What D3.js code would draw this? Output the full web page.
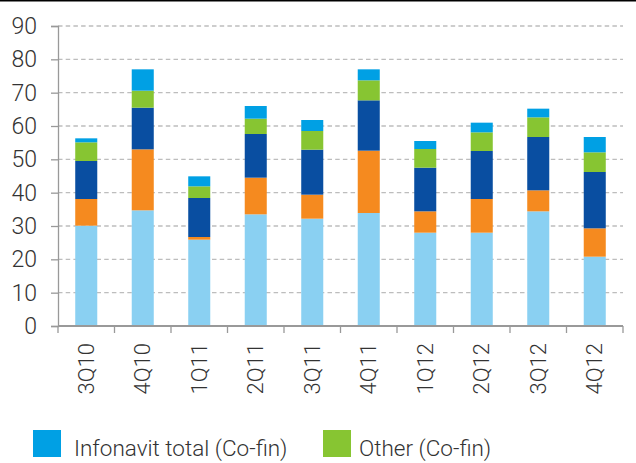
<!DOCTYPE html>
<html>
<head>
<meta charset="utf-8">
<script src="https://cdn.jsdelivr.net/npm/d3@7"></script>
<style>
  body { margin: 0; background: #fff; }
  svg { display: block; font-family: Roboto, "Open Sans", sans-serif; font-weight: 300; }
</style>
</head>
<body>
<svg id="chart"></svg>
<script>
const quarters = ["3Q10", "4Q10", "1Q11", "2Q11", "3Q11", "4Q11", "1Q12", "2Q12", "3Q12", "4Q12"];

// stack segments, bottom to top
const lightBlue = [30.1, 34.7, 25.9, 33.5, 32.2, 33.9, 28.0, 28.0, 34.4, 20.8];
const orange = [8.0, 18.3, 0.8, 11.0, 7.2, 18.7, 6.4, 10.1, 6.3, 8.5];
const darkBlue = [11.4, 12.5, 11.7, 13.1, 13.5, 15.1, 13.1, 14.4, 16.0, 16.9];
const otherCofin = [5.6, 5.1, 3.5, 4.6, 5.6, 6.0, 5.6, 5.6, 5.9, 5.9];
const infonavitCofin = [1.2, 6.4, 3.0, 3.8, 3.3, 3.3, 2.4, 2.9, 2.6, 4.6];

const yTicks = [0, 10, 20, 30, 40, 50, 60, 70, 80, 90];

const seriesKeys = ["lightBlue", "orange", "darkBlue", "other", "infonavit"];
const seriesColors = {
    lightBlue: "#8ad0f2",
    orange: "#f58a1f",
    darkBlue: "#094ea1",
    other: "#87c532",
    infonavit: "#00a0e4"
};
const legendItems = [
    { label: "Infonavit total (Co-fin)", key: "infonavit" },
    { label: "Other (Co-fin)", key: "other" }
];

const width = 636;
const height = 463;
const margin = { left: 58, right: 13, top: 26, bottom: 137 };

const svg = d3.select("#chart")
    .attr("width", width)
    .attr("height", height);

const table = quarters.map((q, i) => ({
    quarter: q,
    lightBlue: lightBlue[i],
    orange: orange[i],
    darkBlue: darkBlue[i],
    other: otherCofin[i],
    infonavit: infonavitCofin[i]
}));

const stacked = d3.stack().keys(seriesKeys)(table);

const xScale = d3.scaleBand()
    .domain(quarters)
    .range([margin.left, width - margin.right])
    .paddingInner(0.61)
    .paddingOuter(0.305);

const yScale = d3.scaleLinear()
    .domain([0, 90])
    .range([height - margin.bottom, margin.top]);

// frame line on top
svg.append("line")
    .attr("x1", 0).attr("x2", width)
    .attr("y1", 0.5).attr("y2", 0.5)
    .attr("stroke", "#000")
    .attr("stroke-width", 2);

// dashed grid
svg.append("g")
    .selectAll("line")
    .data(yTicks.filter(t => t > 0))
    .enter().append("line")
    .attr("x1", margin.left)
    .attr("x2", width - margin.right)
    .attr("y1", d => yScale(d))
    .attr("y2", d => yScale(d))
    .attr("stroke", "#bdbdbd")
    .attr("stroke-width", 1.4)
    .attr("stroke-dasharray", "4.5,3.2");

// bars
svg.append("g")
    .selectAll("g")
    .data(stacked)
    .enter().append("g")
    .attr("fill", d => seriesColors[d.key])
    .selectAll("rect")
    .data(d => d)
    .enter().append("rect")
    .attr("x", d => xScale(d.data.quarter))
    .attr("width", xScale.bandwidth())
    .attr("y", d => yScale(d[1]))
    .attr("height", d => yScale(d[0]) - yScale(d[1]));

// y axis
const axisY = d3.axisLeft(yScale)
    .tickValues(yTicks)
    .tickSize(7)
    .tickPadding(14);

const gy = svg.append("g")
    .attr("transform", `translate(${margin.left},0)`)
    .call(axisY);
gy.select(".domain").attr("stroke", "#999").attr("stroke-width", 1.3);
gy.selectAll(".tick line").attr("stroke", "#999").attr("stroke-width", 1.3);
gy.selectAll(".tick text")
    .attr("fill", "#333")
    .style("font-size", "23px")
    .style("font-family", "Roboto, sans-serif")
    .style("font-weight", 300);

// x axis: ticks between the bands
const step = xScale.step();
const boundaries = quarters.map(q => xScale(q) - step * xScale.paddingInner() / 2)
    .concat([width - margin.right]);

const gx = svg.append("g")
    .attr("transform", `translate(0,${height - margin.bottom})`);

gx.append("line")
    .attr("x1", margin.left).attr("x2", width - margin.right)
    .attr("stroke", "#999").attr("stroke-width", 2);

gx.selectAll(".tk")
    .data(boundaries)
    .enter().append("line")
    .attr("class", "tk")
    .attr("x1", d => d).attr("x2", d => d)
    .attr("y1", 0).attr("y2", 7)
    .attr("stroke", "#999").attr("stroke-width", 1.3);

gx.selectAll("text")
    .data(quarters)
    .enter().append("text")
    .attr("transform", d => `translate(${xScale(d) + xScale.bandwidth() / 2},17) rotate(-90)`)
    .attr("text-anchor", "end")
    .attr("dy", "0.35em")
    .attr("fill", "#333")
    .style("font-size", "22px")
    .text(d => d);

// legend
const legendX = [33, 323];
const legend = svg.append("g")
    .selectAll("g")
    .data(legendItems)
    .enter().append("g")
    .attr("transform", (d, i) => `translate(${legendX[i]},430)`);

legend.append("rect")
    .attr("width", 28)
    .attr("height", 27)
    .attr("fill", d => seriesColors[d.key]);

legend.append("text")
    .attr("x", (d, i) => i === 0 ? 41 : 36)
    .attr("y", 26)
    .attr("fill", "#333")
    .style("font-size", "22.5px")
    .text(d => d.label);
</script>
</body>
</html>
